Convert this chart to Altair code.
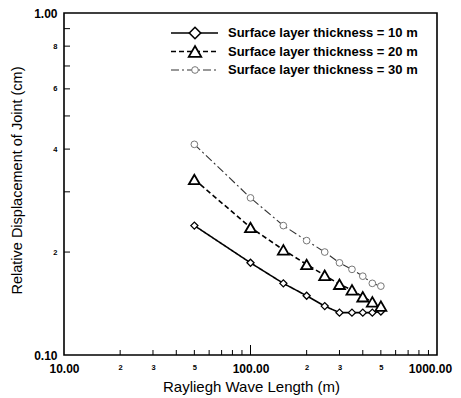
import altair as alt
import pandas as pd

wavelength = [50, 100, 150, 200, 250, 300, 350, 400, 450, 500]
disp_10 = [0.239, 0.186, 0.162, 0.149, 0.139, 0.133, 0.133, 0.133, 0.133, 0.134]
disp_20 = [0.326, 0.236, 0.203, 0.184, 0.171, 0.161, 0.155, 0.148, 0.143, 0.139]
disp_30 = [0.413, 0.288, 0.239, 0.216, 0.200, 0.186, 0.178, 0.170, 0.162, 0.159]
labels = ["Surface layer thickness = 10 m",
          "Surface layer thickness = 20 m",
          "Surface layer thickness = 30 m"]

x_minor = [20, 30, 40, 50, 60, 70, 80, 90, 200, 300, 400, 500, 600, 700, 800, 900]
x_major = [100]
x_label_vals = [10, 20, 30, 50, 100, 200, 300, 500, 1000]
y_minor = [0.2, 0.3, 0.4, 0.5, 0.6, 0.7, 0.8, 0.9]
y_label_vals = [0.1, 0.2, 0.4, 0.6, 0.8, 1.0]

W, H = 373, 342
FONT = "Liberation Sans"

xs = alt.Scale(type="log", domain=[10, 1000], nice=False)
ys = alt.Scale(type="log", domain=[0.1, 1.0], nice=False)

xaxis = alt.Axis(
    values=x_label_vals, ticks=False, domain=False, grid=False,
    labelExpr="datum.value==10?'10.00':datum.value==100?'100.00':datum.value==1000?'1000.00':format(datum.value<100?datum.value/10:datum.value/100,'d')",
    labelFontSize={"condition": {"test": "datum.value==10||datum.value==100||datum.value==1000", "value": 12}, "value": 7.5},
    labelOffset={"condition": {"test": "datum.value==1000", "value": -7}, "value": 0},
    labelFontWeight="bold", labelFont=FONT, labelColor="black",
    labelPadding=8, labelFlush=False, labelOverlap=False, labelBaseline="top",
    title="Rayliegh Wave Length (m)", titleFont=FONT, titleFontSize=15,
    titleFontWeight="normal", titleColor="black",
    titleX=187, titleY=36, titleBaseline="alphabetic", titleAlign="center",
)
yaxis = alt.Axis(
    values=y_label_vals, ticks=False, domain=False, grid=False,
    labelExpr="datum.value<0.15?'0.10':datum.value>0.95?'1.00':format(round(datum.value*10),'d')",
    labelFontSize={"condition": {"test": "datum.value<0.15||datum.value>0.95", "value": 12}, "value": 7.5},
    labelFontWeight="bold", labelFont=FONT, labelColor="black",
    labelPadding=7, labelOverlap=False, labelBaseline="middle",
    title="Relative Displacement of Joint (cm)", titleFont=FONT, titleFontSize=14.5,
    titleFontWeight="normal", titleColor="black",
    titleX=-47, titleY=167, titleAngle=270, titleBaseline="middle", titleAlign="center",
)

def X(f):
    return alt.X(f, scale=xs, axis=xaxis)

def Y(f):
    return alt.Y(f, scale=ys, axis=yaxis)

df = pd.concat([
    pd.DataFrame({"x": wavelength, "y": disp_10, "s": labels[0]}),
    pd.DataFrame({"x": wavelength, "y": disp_20, "s": labels[1]}),
    pd.DataFrame({"x": wavelength, "y": disp_30, "s": labels[2]}),
])

styles = [
    dict(dash=[1, 0], color="black", sw=1.6, shape="diamond", size=50, msw=1.3, mcolor="black"),
    dict(dash=[5, 3], color="black", sw=1.6, shape="triangle-up", size=120, msw=1.8, mcolor="black"),
    dict(dash=[8, 3, 2, 3], color="#333333", sw=1.1, shape="circle", size=45, msw=1.0, mcolor="#777777"),
]

layers = []
for lab, st in zip(labels, styles):
    d = df[df.s == lab]
    line = alt.Chart(d).mark_line(color=st["color"], strokeWidth=st["sw"], strokeDash=st["dash"]).encode(
        x=X("x:Q"), y=Y("y:Q"))
    pts = alt.Chart(d).mark_point(shape=st["shape"], size=st["size"], filled=True, fill="white",
                                  stroke=st["mcolor"], strokeWidth=st["msw"], opacity=1).encode(
        x=X("x:Q"), y=Y("y:Q"))
    layers += [line, pts]

# inward ticks
xt_minor = alt.Chart(pd.DataFrame({"x": x_minor})).mark_rule(color="black", strokeWidth=1).encode(
    x=X("x:Q"), y=alt.value(H), y2=alt.value(H - 5))
xt_major = alt.Chart(pd.DataFrame({"x": x_major})).mark_rule(color="black", strokeWidth=1).encode(
    x=X("x:Q"), y=alt.value(H), y2=alt.value(H - 10))
yt_minor = alt.Chart(pd.DataFrame({"y": y_minor})).mark_rule(color="black", strokeWidth=1).encode(
    y=Y("y:Q"), x=alt.value(0), x2=alt.value(6))
layers += [xt_minor, xt_major, yt_minor]

# legend
for i, (lab, st) in enumerate(zip(labels, styles)):
    yy = 20 + i * 18.5
    layers.append(alt.Chart(pd.DataFrame({"a": [0]})).mark_rule(
        color=st["color"], strokeWidth=st["sw"], strokeDash=st["dash"]).encode(
        x=alt.value(107), x2=alt.value(154), y=alt.value(yy)))
    layers.append(alt.Chart(pd.DataFrame({"a": [0]})).mark_point(
        shape=st["shape"], size=st["size"] * (2.6 if i == 0 else 1.3 if i == 1 else 1.0),
        filled=True, fill="white", stroke=st["mcolor"], strokeWidth=st["msw"] + (0.3 if i == 0 else 0), opacity=1).encode(
        x=alt.value(131), y=alt.value(yy)))
    layers.append(alt.Chart(pd.DataFrame({"a": [0]})).mark_text(
        text=lab, align="left", baseline="middle", font=FONT, fontSize=13, fontWeight="bold", color="black").encode(
        x=alt.value(164), y=alt.value(yy)))

chart = alt.layer(*layers).properties(
    width=W, height=H,
    autosize=alt.AutoSizeParams(type="none"),
    padding={"left": 56, "top": 5, "right": 16, "bottom": 43},
).configure(background="white", view=alt.ViewConfig(stroke="black", strokeWidth=1.6))

chart.save("out.html", embed_options={"renderer": "svg", "actions": False})
